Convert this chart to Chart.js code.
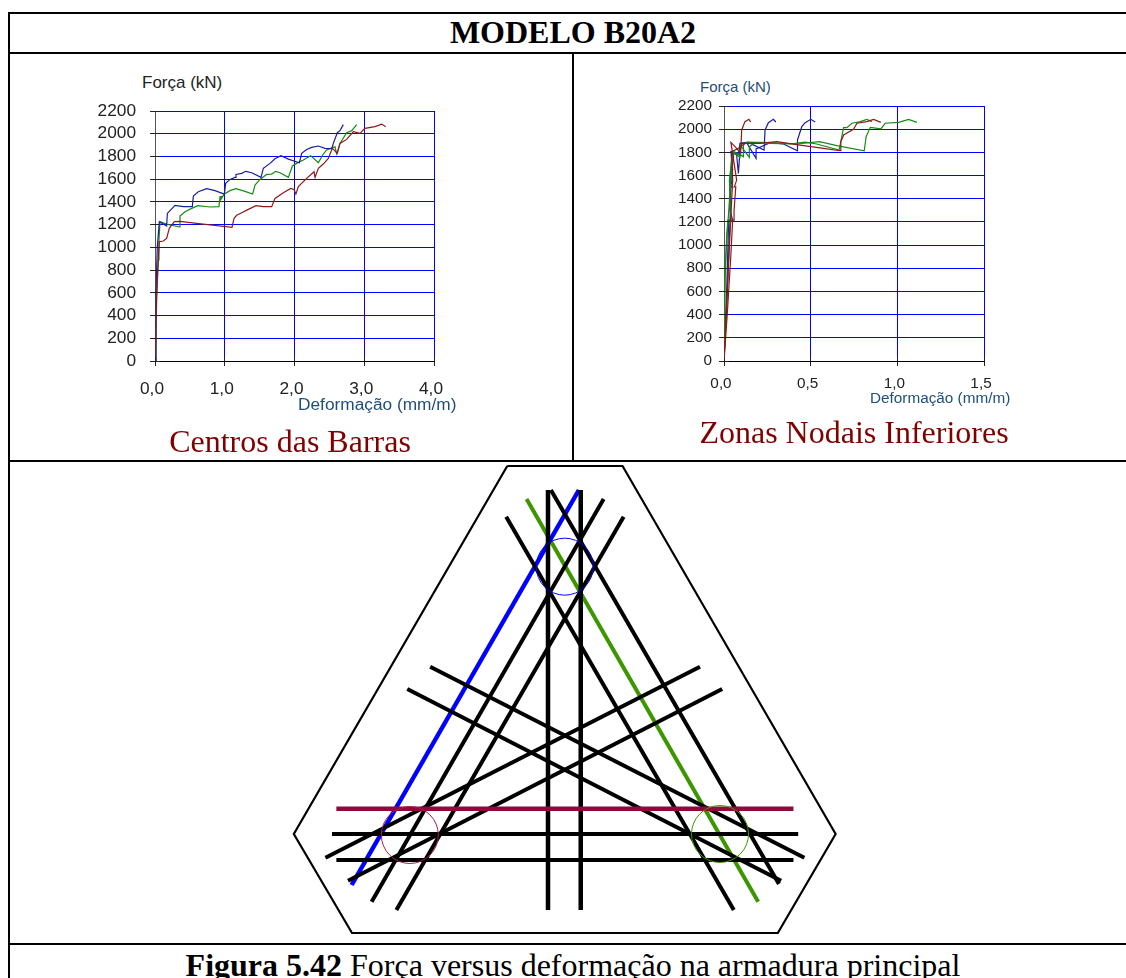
<!DOCTYPE html>
<html lang="pt">
<head>
<meta charset="utf-8">
<title>Figura 5.42</title>
<script src="https://cdn.jsdelivr.net/npm/chart.js@4"></script>
<style>
html, body { margin: 0; padding: 0; background: #fff; }
#page { position: relative; width: 1126px; height: 978px; overflow: hidden; }
canvas { position: absolute; }
.rule { position: absolute; background: #000; }
.txt { position: absolute; white-space: nowrap; line-height: 1; }
.serif { font-family: "Liberation Serif", serif; color: #000; font-size: 32px; }
.sans { font-family: "Liberation Sans", Arial, sans-serif; }
.center { transform: translateX(-50%); }
</style>
</head>
<body>
<div id="page">
    <div class="rule" style="left:8px;top:12px;width:1118px;height:2px"></div>
    <div class="rule" style="left:8px;top:52px;width:1118px;height:2px"></div>
    <div class="rule" style="left:8px;top:460px;width:1118px;height:2px"></div>
    <div class="rule" style="left:8px;top:943px;width:1118px;height:2px"></div>
    <div class="rule" style="left:8px;top:12px;width:2px;height:966px"></div>
    <div class="rule" style="left:572px;top:52px;width:2px;height:408px"></div>

    <div class="txt serif center" style="left:573px;top:16px;font-weight:bold">MODELO B20A2</div>

    <canvas id="chartBarras" width="400" height="300" style="left:60px;top:100px"></canvas>
    <div class="txt sans" style="left:142px;top:74px;font-size:17px;color:#222">Força (kN)</div>
    <div class="txt sans" style="left:298px;top:396px;font-size:17.3px;color:#1f4e79">Deformação (mm/m)</div>
    <div class="txt serif center" style="left:290px;top:425px;color:#800000">Centros das Barras</div>

    <canvas id="chartNodais" width="400" height="300" style="left:630px;top:95px"></canvas>
    <div class="txt sans" style="left:700px;top:79px;font-size:15px;color:#1f4e79">Força (kN)</div>
    <div class="txt sans" style="left:870px;top:390px;font-size:15.3px;color:#1f4e79">Deformação (mm/m)</div>
    <div class="txt serif center" style="left:854px;top:416px;color:#800000">Zonas Nodais Inferiores</div>

    <canvas id="chartSecao" width="570" height="480" style="left:280px;top:460px"></canvas>

    <div class="txt serif center" style="left:573px;top:949px"><b>Figura 5.42</b> Força versus deformação na armadura principal</div>
</div>

<script>
// eixo de força, comum aos dois gráficos
const forceMax = 2200;
const forceStep = 200;

// centros das barras: [deformação, força]
const barrasBlue = [[0,0],[0.014,625],[0.033,1006],[0.062,1226],[0.143,1197],[0.167,1188],[0.177,1299],[0.287,1370],[0.406,1358],[0.535,1358],[0.55,1452],[0.621,1490],[0.741,1516],[0.86,1499],[0.994,1469],[1.013,1563],[1.075,1598],[1.147,1616],[1.161,1642],[1.243,1651],[1.30,1669],[1.386,1657],[1.52,1616],[1.553,1695],[1.649,1739],[1.72,1780],[1.806,1807],[1.912,1777],[2.07,1745],[2.103,1827],[2.174,1862],[2.246,1880],[2.342,1892],[2.437,1871],[2.533,1868],[2.557,1915],[2.614,2009],[2.652,2027],[2.70,2080]];
const barrasGreen = [[0,0],[0.014,507],[0.048,889],[0.057,1065],[0.072,1226],[0.167,1205],[0.349,1179],[0.358,1276],[0.43,1314],[0.526,1343],[0.612,1367],[0.788,1355],[0.918,1358],[0.932,1446],[0.956,1446],[0.94,1420],[0.994,1469],[1.075,1499],[1.161,1516],[1.29,1493],[1.40,1469],[1.434,1549],[1.505,1598],[1.60,1642],[1.673,1645],[1.73,1669],[1.792,1657],[1.912,1616],[1.97,1716],[2.03,1739],[2.127,1769],[2.232,1807],[2.342,1745],[2.404,1813],[2.461,1857],[2.58,1886],[2.605,1821],[2.652,1915],[2.748,2009],[2.82,2027],[2.891,2080]];
const barrasRed = [[0,0],[0.024,540],[0.048,918],[0.062,1050],[0.119,1056],[0.167,1079],[0.205,1167],[0.277,1226],[0.358,1229],[0.597,1211],[1.104,1176],[1.133,1255],[1.171,1282],[1.243,1305],[1.338,1334],[1.448,1367],[1.553,1358],[1.673,1358],[1.72,1431],[1.84,1481],[1.945,1519],[1.993,1510],[2.02,1469],[2.055,1534],[2.174,1607],[2.28,1666],[2.294,1616],[2.342,1695],[2.413,1733],[2.485,1783],[2.542,1871],[2.614,1827],[2.652,1915],[2.748,1950],[2.843,2018],[2.939,2003],[3.01,2047],[3.154,2062],[3.25,2085],[3.307,2062]];

// zonas nodais inferiores
const nodaisRedA = [[0,0],[0.019,409],[0.039,899],[0.05,1215],[0.062,1215],[0.058,1300],[0.068,1503],[0.06,1503],[0.073,1561],[0.04,1886],[0.064,1849],[0.096,1791],[0.102,1993],[0.121,2065],[0.144,2085],[0.154,2062]];
const nodaisRedB = [[0,0],[0.012,409],[0.031,985],[0.05,1561],[0.046,1806],[0.083,1835],[0.121,1878],[0.208,1878],[0.304,1892],[0.439,1863],[0.574,1835],[0.67,1814],[0.674,1892],[0.69,1950],[0.747,1999],[0.767,2051],[0.824,2065],[0.863,2085],[0.905,2059]];
const nodaisBlueA = [[0,0],[0.015,582],[0.027,1215],[0.05,1215],[0.034,1300],[0.036,1503],[0.05,1503],[0.04,1560],[0.04,1650],[0.05,1650],[0.04,1806],[0.073,1777],[0.083,1619],[0.092,1806],[0.102,1878],[0.14,1886],[0.231,1820],[0.237,1993],[0.256,2056],[0.285,2085],[0.299,2062]];
const nodaisBlueB = [[0,0],[0.019,582],[0.035,1215],[0.044,1806],[0.085,1780],[0.092,1878],[0.131,1883],[0.185,1748],[0.185,1830],[0.266,1883],[0.343,1872],[0.424,1814],[0.424,1907],[0.449,2022],[0.468,2056],[0.501,2085],[0.526,2062]];
const nodaisGreenA = [[0,0],[0.006,697],[0.015,1071],[0.022,1215],[0.04,1215],[0.031,1561],[0.05,1806],[0.092,1757],[0.096,1860],[0.146,1757],[0.146,1849],[0.185,1885],[0.266,1878],[0.381,1872],[0.468,1889],[0.535,1872],[0.664,1820],[0.69,2013],[0.709,2013],[0.738,2051],[0.786,2065],[0.824,2085],[0.853,2065]];
const nodaisGreenB = [[0,0],[0.006,800],[0.02,1130],[0.039,1561],[0.058,1806],[0.112,1763],[0.112,1863],[0.131,1889],[0.266,1885],[0.42,1872],[0.551,1892],[0.651,1858],[0.809,1814],[0.82,1935],[0.844,2016],[0.905,2002],[0.93,2051],[1.007,2059],[1.065,2085],[1.113,2059]];

// seção: contorno, barras [x1,y1,x2,y2] e círculos [x,y]
const sectionOutline = [[625,18],[942,18],[1528,1122],[1369,1419],[198,1419],[38,1122],[625,18]];
const verticalBars = [[737,90,737,1350],[827,90,827,1350]];
const blackBars = [[745,90,1372,1272],[622,170,1248,1350],[890,117,252,1325],[945,170,320,1350],[413,620,1442,1193],[350,687,1378,1262],[1155,620,125,1193],[1216,687,187,1262],[143,1122,1425,1122],[155,1200,1412,1200]];
const blueBar = [822,90,197,1275];
const greenBar = [678,117,1315,1325];
const redBar = [155,1046,1412,1046];
const gaugeCircles = [[783,320],[357,1125],[1210,1122]];
const gaugeColors = ['#0000ff', '#a0204a', '#3c9600'];

const COLOR_RED = '#8c1a1a';
const COLOR_GREEN = '#168a16';
const COLOR_BLUE = '#1c1c9c';
const COLOR_GRID = '#0000ff';

function toPoints(pairs) {
    return pairs.map(p => ({ x: p[0], y: p[1] }));
}

function curve(pairs, color) {
    return {
        data: toPoints(pairs),
        showLine: true,
        borderColor: color,
        borderWidth: 1.2,
        pointRadius: 0,
        tension: 0
    };
}

function segment(bar, color, width) {
    return {
        data: [{ x: bar[0], y: bar[1] }, { x: bar[2], y: bar[3] }],
        showLine: true,
        borderColor: color,
        borderWidth: width,
        pointRadius: 0,
        clip: false
    };
}

// parte interna das marcas de escala, por cima da grade
const crossTicks = {
    id: 'crossTicks',
    afterDraw(chart) {
        const { ctx, chartArea, scales } = chart;
        ctx.save();
        ctx.strokeStyle = '#222';
        ctx.lineWidth = 1;
        ctx.beginPath();
        scales.y.ticks.forEach(t => {
            const py = Math.round(scales.y.getPixelForValue(t.value) - 0.5) + 0.5;
            ctx.moveTo(chartArea.left, py);
            ctx.lineTo(chartArea.left + 5, py);
        });
        scales.x.ticks.forEach(t => {
            const px = Math.round(scales.x.getPixelForValue(t.value) - 0.5) + 0.5;
            ctx.moveTo(px, chartArea.bottom - 4);
            ctx.lineTo(px, chartArea.bottom);
        });
        ctx.stroke();
        ctx.restore();
    }
};

function forceChart(id, datasets, opts) {
    const labelFont = { family: '"Liberation Sans", Arial, sans-serif', size: opts.fontSize };
    return new Chart(document.getElementById(id), {
        type: 'scatter',
        data: { datasets },
        plugins: [crossTicks],
        options: {
            responsive: false,
            animation: false,
            layout: { padding: opts.padding, autoPadding: false },
            plugins: { legend: { display: false }, tooltip: { enabled: false } },
            scales: {
                x: {
                    type: 'linear',
                    min: 0,
                    max: opts.xMax,
                    afterFit: s => { s.height = opts.xHeight; s.paddingLeft = 0; s.paddingRight = 0; },
                    afterBuildTicks: s => { s.ticks = opts.xTicks.map(v => ({ value: v })); },
                    grid: { color: COLOR_GRID, lineWidth: 1, tickLength: 5, tickColor: '#222' },
                    border: { color: '#000', width: 1 },
                    ticks: {
                        color: '#222',
                        font: labelFont,
                        padding: opts.xPad,
                        labelOffset: -3,
                        maxRotation: 0,
                        callback: v => v.toFixed(1).replace('.', ',')
                    }
                },
                y: {
                    min: 0,
                    max: forceMax,
                    afterFit: s => { s.width = opts.yWidth; s.paddingTop = 0; s.paddingBottom = 0; },
                    grid: { color: COLOR_GRID, lineWidth: 1, tickLength: 5, tickColor: '#222' },
                    border: { color: '#555', width: 1 },
                    ticks: {
                        stepSize: forceStep,
                        color: '#222',
                        font: labelFont,
                        padding: opts.yPad,
                        autoSkip: false,
                        callback: v => String(v)
                    }
                }
            }
        }
    });
}

forceChart('chartBarras', [
    curve(barrasRed, COLOR_RED),
    curve(barrasBlue, COLOR_BLUE),
    curve(barrasGreen, COLOR_GREEN)
], {
    xMax: 4,
    xTicks: [0, 1, 2, 3, 4],
    fontSize: 17.3,
    padding: { left: 0, top: 11, right: 26, bottom: 0 },
    yWidth: 95,
    xHeight: 39,
    xPad: 13,
    yPad: 14
});

forceChart('chartNodais', [
    curve(nodaisRedA, COLOR_RED),
    curve(nodaisRedB, COLOR_RED),
    curve(nodaisGreenA, COLOR_GREEN),
    curve(nodaisGreenB, COLOR_GREEN),
    curve(nodaisBlueA, COLOR_BLUE),
    curve(nodaisBlueB, COLOR_BLUE)
], {
    xMax: 1.5,
    xTicks: [0, 0.5, 1, 1.5],
    fontSize: 15.3,
    padding: { left: 0, top: 11, right: 46, bottom: 0 },
    yWidth: 94,
    xHeight: 34,
    xPad: 9,
    yPad: 7
});

// o primeiro dataset fica por cima dos seguintes
const sectionSets = [];
gaugeCircles.forEach((c, i) => {
    sectionSets.push({
        data: [{ x: c[0], y: c[1] }],
        pointRadius: 28.5,
        pointBorderWidth: 1,
        pointBorderColor: gaugeColors[i],
        pointBackgroundColor: 'rgba(0,0,0,0)',
        clip: false
    });
});
sectionSets.push({
    data: toPoints(sectionOutline),
    showLine: true,
    borderColor: '#000',
    borderWidth: 2.2,
    pointRadius: 0,
    clip: false
});
sectionSets.push(segment(redBar, '#8c0a3c', 4.5));
verticalBars.forEach(b => sectionSets.push(segment(b, '#000', 4.5)));
blackBars.forEach(b => sectionSets.push(segment(b, '#000', 4)));
sectionSets.push(segment(blueBar, '#0000ff', 4.5));
sectionSets.push(segment(greenBar, '#3c9600', 4));

new Chart(document.getElementById('chartSecao'), {
    type: 'scatter',
    data: { datasets: sectionSets },
    options: {
        responsive: false,
        animation: false,
        layout: { autoPadding: false },
        plugins: { legend: { display: false }, tooltip: { enabled: false } },
        scales: {
            x: { display: false, min: 0, max: 1567.5 },
            y: { display: false, min: 0, max: 1440, reverse: true }
        }
    }
});
</script>
</body>
</html>
